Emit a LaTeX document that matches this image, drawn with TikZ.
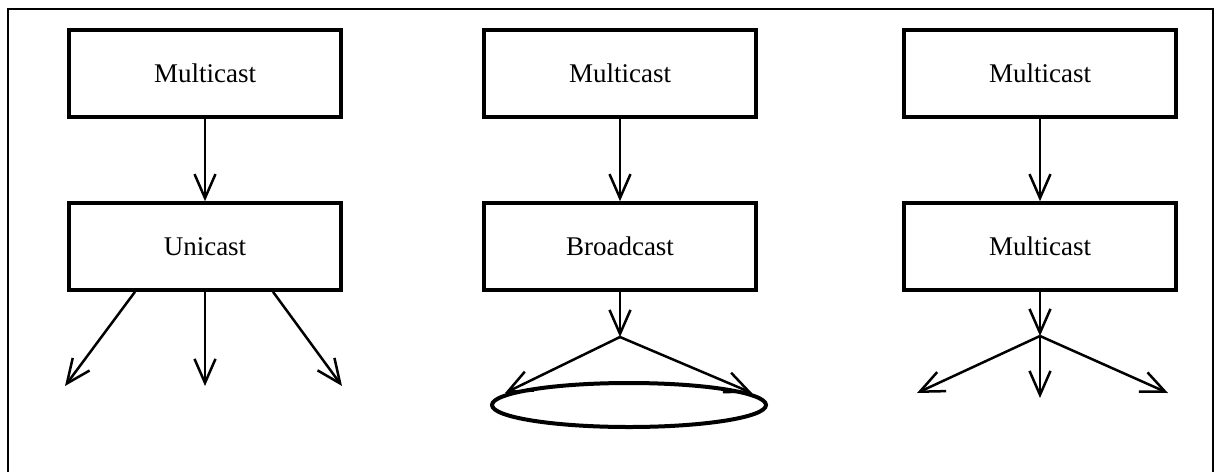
\documentclass[tikz,border=0pt]{standalone}
\usepackage{fontspec}
\setmainfont{Liberation Serif}
\usetikzlibrary{arrows.meta}

\begin{document}
\begin{tikzpicture}[x=1pt,y=-1pt,
		castbox/.style={draw,line width=3.6pt,minimum width=272pt,minimum height=87pt,font=\fontsize{27}{30}\selectfont},
		flow/.style={line width=2.5pt,-{Straight Barb[length=24pt,width=21pt,line width=2.5pt]}}]
		\useasboundingbox (0,0) rectangle (1216,472);
		
		% frame
		\draw[line width=2.5pt] (8,472) -- (8,9) -- (1213,9) -- (1213,472);
		
		% left: multicast over unicast
		\node[castbox] (mcA) at (205,73.5) {Multicast};
		\node[castbox] (uni) at (205,246.5) {Unicast};
		\coordinate (uL) at (65,386);
		\coordinate (uC) at (205,386);
		\coordinate (uR) at (342,386);
		\draw[flow] (mcA) -- (uni);
		\draw[flow] ([xshift=-70pt]uni.south) -- (uL);
		\draw[flow] (uni.south) -- (uC);
		\draw[flow] ([xshift=68pt]uni.south) -- (uR);
		
		% middle: multicast over broadcast
		\node[castbox] (mcB) at (620,73.5) {Multicast};
		\node[castbox] (bc) at (620,246.5) {Broadcast};
		\coordinate (bSplit) at (620,337);
		\coordinate (bL) at (505,393);
		\coordinate (bR) at (752,393);
		\draw[flow] (mcB) -- (bc);
		\draw[flow] (bc) -- (bSplit);
		\draw[flow] (bSplit) -- (bL);
		\draw[flow] (bSplit) -- (bR);
		\draw[line width=4pt] (629,405) ellipse (137pt and 22pt);
		
		% right: multicast over multicast
		\node[castbox] (mcC) at (1040,73.5) {Multicast};
		\node[castbox] (mcD) at (1040,246.5) {Multicast};
		\coordinate (mSplit) at (1040,336);
		\coordinate (mL) at (917,393);
		\coordinate (mC) at (1040,398);
		\coordinate (mR) at (1168,393);
		\draw[flow] (mcC) -- (mcD);
		\draw[flow] (mcD) -- (mSplit);
		\draw[flow] (mSplit) -- (mL);
		\draw[flow] (mSplit) -- (mC);
		\draw[flow] (mSplit) -- (mR);
		
\end{tikzpicture}
\end{document}
